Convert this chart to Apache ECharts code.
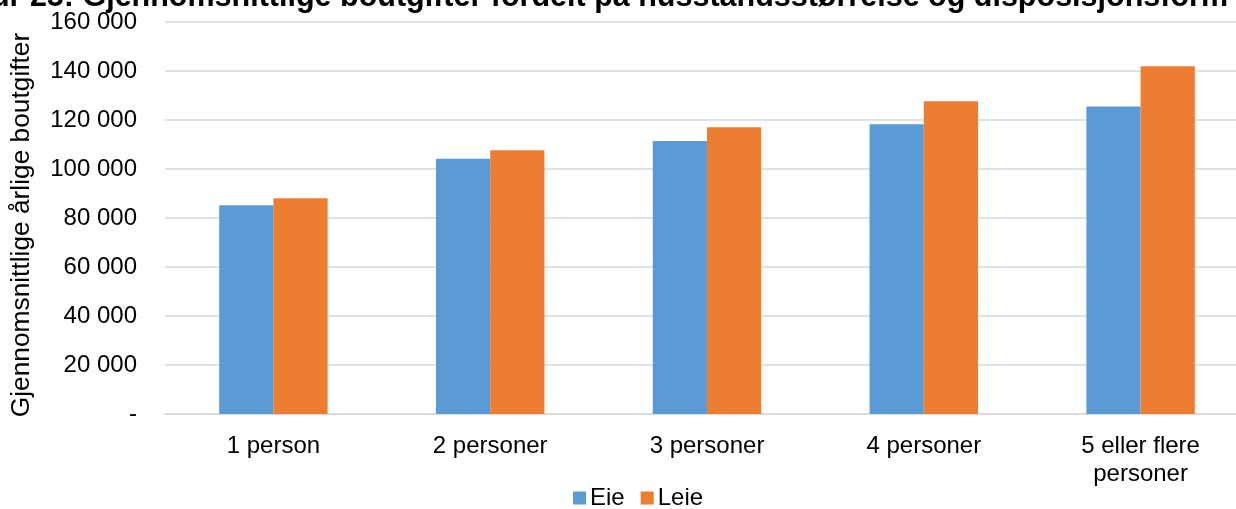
<!DOCTYPE html>
<html>
<head>
<meta charset="utf-8">
<script src="https://cdn.jsdelivr.net/npm/echarts@6/dist/echarts.min.js"></script>
<style>
html,body{margin:0;padding:0;background:#fff;}
#chart{width:1236px;height:509px;}
</style>
</head>
<body>
<div id="chart"></div>
<script>
const titleText = "Figur 25: Gjennomsnittlige boutgifter fordelt på husstandsstørrelse og disposisjonsform";
const yAxisTitle = "Gjennomsnittlige årlige boutgifter";
const categories = ["1 person", "2 personer", "3 personer", "4 personer", "5 eller flere\npersoner"];
const seriesNames = ["Eie", "Leie"];
const eieValues = [85200, 104200, 111400, 118300, 125500];
const leieValues = [88100, 107700, 117000, 127700, 141900];
const colors = ["#5B9BD5", "#ED7D31"];

const FONT = "'Liberation Sans', Arial, sans-serif";
const chart = echarts.init(document.getElementById('chart'));
chart.setOption({
  animation: false,
  color: colors,
  textStyle: { fontFamily: FONT },
  graphic: [{
    type: 'text',
    right: 8,
    top: -18,
    style: {
      text: titleText,
      font: "bold 30.5px " + FONT,
      fill: '#000'
    }
  }, {
    type: 'text',
    x: 22,
    y: 225,
    rotation: Math.PI / 2,
    style: {
      text: yAxisTitle,
      font: "26.3px " + FONT,
      fill: '#000',
      align: 'center',
      verticalAlign: 'middle'
    }
  }],
  grid: { left: 165, right: -13, top: 22, bottom: 95, containLabel: false, outerBoundsMode: 'none' },
  legend: {
    data: seriesNames,
    bottom: -6,
    left: 568,
    itemWidth: 13,
    itemHeight: 13,
    itemGap: 16,
    icon: 'rect',
    textStyle: { fontSize: 24, color: '#000', fontFamily: FONT, padding: [0, 0, 0, -1] }
  },
  xAxis: {
    type: 'category',
    data: categories,
    axisLine: { show: true, lineStyle: { color: '#d9d9d9', width: 1.5 } },
    axisTick: { show: false },
    axisLabel: { fontSize: 24, color: '#000', margin: 18, lineHeight: 28, fontFamily: FONT }
  },
  yAxis: {
    type: 'value',
    min: 0,
    max: 160000,
    interval: 20000,
    axisLine: { show: false },
    axisTick: { show: false },
    splitLine: { lineStyle: { color: '#d9d9d9', width: 1.5 } },
    axisLabel: {
      fontSize: 24, color: '#000', margin: 28, fontFamily: FONT,
      formatter: function (v) {
        if (v === 0) return '-';
        return String(v).replace(/\B(?=(\d{3})+(?!\d))/g, ' ');
      }
    }
  },
  series: [
    { name: seriesNames[0], type: 'bar', data: eieValues, barGap: '0%', barCategoryGap: '50%' },
    { name: seriesNames[1], type: 'bar', data: leieValues, barGap: '0%', barCategoryGap: '50%' }
  ]
});
</script>
</body>
</html>
